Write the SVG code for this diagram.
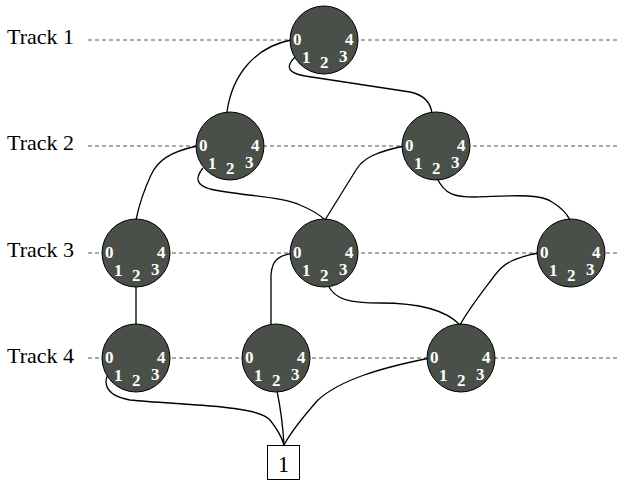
<svg xmlns="http://www.w3.org/2000/svg" width="624" height="481" viewBox="0 0 624 481">
<style>
text{font-family:'Liberation Serif','Times New Roman','DejaVu Serif',serif}
.track{font-size:22px;fill:#000}
.dash{stroke:#555;stroke-width:1;stroke-dasharray:4,3;fill:none}
.conn path{fill:none;stroke:#000;stroke-width:1.3}
.box{fill:#fff;stroke:#000;stroke-width:1}
.boxt{font-size:23px;fill:#000}
</style>
<defs>
<g id="n">
<circle cx="0" cy="0" r="34" fill="#4a4f49" stroke="#000" stroke-width="1"/>
<g font-family="'Liberation Serif','Times New Roman','DejaVu Serif',serif" font-size="17" font-weight="bold" fill="#fff">
<text x="-31" y="5">0</text>
<text x="21" y="5">4</text>
<text x="-22" y="23">1</text>
<text x="-4" y="28">2</text>
<text x="15" y="22">3</text>
</g>
</g>
</defs>
<g id="tracks" font-family="'Liberation Serif','Times New Roman','DejaVu Serif',serif">
<text class="track" x="7" y="44">Track 1</text>
<text class="track" x="7" y="150">Track 2</text>
<text class="track" x="7" y="257">Track 3</text>
<text class="track" x="7" y="363">Track 4</text>
<line class="dash" x1="88" y1="40" x2="620" y2="40"/>
<line class="dash" x1="88" y1="146" x2="620" y2="146"/>
<line class="dash" x1="88" y1="253" x2="620" y2="253"/>
<line class="dash" x1="88" y1="358" x2="620" y2="358"/>
</g>
<g id="connectors" class="conn">
<path d="M291,40 C255,47 232,75 227,112"/>
<path d="M295,57 C285,67 288,73 305,76 L410,92 C424,95 431,103 432,114"/>
<path d="M197,146 C170,152 158,160 151,175 C144,190 139,205 136,220"/>
<path d="M203,168 C195,178 196,185 210,189 C240,196 282,196 300,205 C312,210 320,215 325,220"/>
<path d="M404,146 C376,152 363,158 356,170 L325,220"/>
<path d="M437,178 C445,195 455,197 475,197 C510,196 540,193 552,202 C562,208 567,214 570,220"/>
<path d="M136,286 L136,325"/>
<path d="M293,253 C278,256 272,260 271,275 L271,325"/>
<path d="M328,285 C335,300 350,303 380,303 C420,303 446,310 460,325"/>
<path d="M538,253 C515,258 505,262 495,275 C480,295 468,310 460,325"/>
<path d="M110,371 C103,381 103,395 130,400 C180,405 258,405 270,420 C278,430 282,438 284,445"/>
<path d="M277,391 C281,410 283,428 284,445"/>
<path d="M430,358 C380,368 340,380 318,400 C302,418 291,432 284,445"/>
</g>
<g id="node-t1"><use href="#n" x="324" y="40"/></g>
<g id="node-t2a"><use href="#n" x="230" y="146"/></g>
<g id="node-t2b"><use href="#n" x="436" y="146"/></g>
<g id="node-t3a"><use href="#n" x="136" y="253"/></g>
<g id="node-t3b"><use href="#n" x="324" y="253"/></g>
<g id="node-t3c"><use href="#n" x="571" y="253"/></g>
<g id="node-t4a"><use href="#n" x="136" y="358"/></g>
<g id="node-t4b"><use href="#n" x="276" y="358"/></g>
<g id="node-t4c"><use href="#n" x="461" y="358"/></g>
<g id="box-1">
<rect class="box" x="267.5" y="445.5" width="32" height="34"/>
<text class="boxt" x="283.5" y="472" text-anchor="middle">1</text>
</g>
</svg>
